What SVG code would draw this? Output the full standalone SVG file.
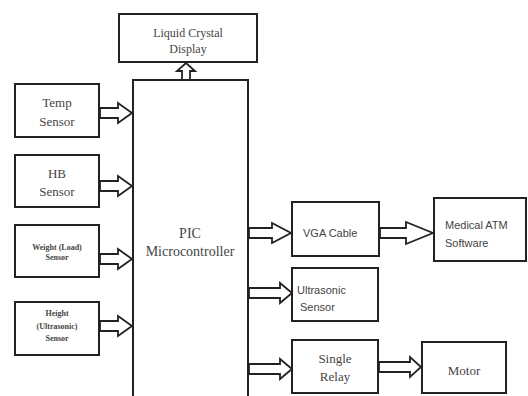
<svg xmlns="http://www.w3.org/2000/svg" width="528" height="396" viewBox="0 0 528 396">
<style>
.box{fill:#fff;stroke:#222;stroke-width:2}
.arr{fill:#fff;stroke:#222;stroke-width:1.8;stroke-linejoin:miter}
.serif{font-family:"Liberation Serif","Times New Roman",serif;fill:#444;text-anchor:middle}
.sans{font-family:"Liberation Sans",Arial,sans-serif;fill:#444}
.small{font-size:8px;font-weight:bold}
</style>
<rect width="528" height="396" fill="#fff"/>
<g id="lcd"><rect class="box" x="119" y="14" width="138" height="48"/><text class="serif" font-size="12" x="188" y="37">Liquid Crystal</text><text class="serif" font-size="12" x="188" y="53">Display</text></g>
<g id="pic"><rect class="box" x="133" y="80" width="115" height="330"/><text class="serif" font-size="14" x="190" y="238">PIC</text><text class="serif" font-size="14" x="190" y="256">Microcontroller</text></g>
<g id="temp"><rect class="box" x="15" y="84" width="84" height="53"/><text class="serif" font-size="13" x="57" y="107">Temp</text><text class="serif" font-size="13" x="57" y="126">Sensor</text></g>
<g id="hb"><rect class="box" x="15" y="155" width="84" height="52"/><text class="serif" font-size="13" x="57" y="178">HB</text><text class="serif" font-size="13" x="57" y="196">Sensor</text></g>
<g id="weight"><rect class="box" x="15" y="225" width="84" height="52"/><text class="serif small" x="57" y="250">Weight (Load)</text><text class="serif small" x="57" y="260">Sensor</text></g>
<g id="height"><rect class="box" x="15" y="302" width="84" height="53"/><text class="serif small" x="57" y="316">Height</text><text class="serif small" x="57" y="329">(Ultrasonic)</text><text class="serif small" x="57" y="341">Sensor</text></g>
<g id="vga"><rect class="box" x="292" y="202" width="87" height="54"/><text class="sans" font-size="11" x="303" y="237">VGA Cable</text></g>
<g id="medical"><rect class="box" x="434" y="198" width="92" height="63"/><text class="sans" font-size="11" x="445" y="229">Medical ATM</text><text class="sans" font-size="11" x="445" y="247">Software</text></g>
<g id="ultrasonic"><rect class="box" x="292" y="268" width="86" height="53"/><text class="sans" font-size="11" x="297" y="294">Ultrasonic</text><text class="sans" font-size="11" x="300" y="311">Sensor</text></g>
<g id="relay"><rect class="box" x="292" y="340" width="86" height="53"/><text class="serif" font-size="13" x="335" y="363">Single</text><text class="serif" font-size="13" x="335" y="381">Relay</text></g>
<g id="motor"><rect class="box" x="422" y="342" width="84" height="51"/><text class="serif" font-size="13" x="464" y="375">Motor</text></g>
<g id="connectors">
<path class="arr" d="M182 80 V71 H177 L186 63 L195 71 H190 V80 Z"/>
<path class="arr" d="M100 108 H118 V103 L132 113 L118 123 V118 H100 Z"/>
<path class="arr" d="M100 181 H118 V176 L132 186 L118 196 V191 H100 Z"/>
<path class="arr" d="M100 254 H118 V249 L132 259 L118 269 V264 H100 Z"/>
<path class="arr" d="M100 321 H118 V316 L132 326 L118 336 V331 H100 Z"/>
<path class="arr" d="M249 228 H272 V223 L291 233 L272 243 V238 H249 Z"/>
<path class="arr" d="M380 228 H406 V222 L433 233 L406 244 V238 H380 Z"/>
<path class="arr" d="M249 288 H280 V283 L292 293 L280 303 V298 H249 Z"/>
<path class="arr" d="M249 364 H280 V359 L292 369 L280 379 V374 H249 Z"/>
<path class="arr" d="M379 362 H410 V357 L421 367 L410 377 V372 H379 Z"/>
</g>
</svg>
